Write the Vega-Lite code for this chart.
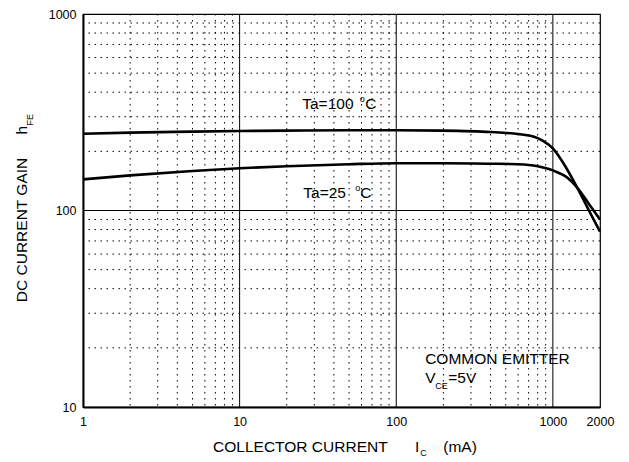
{
  "$schema": "https://vega.github.io/schema/vega-lite/v6.json",
  "width": 517,
  "height": 393,
  "autosize": "none",
  "padding": {"left": 83, "top": 14, "right": 29, "bottom": 55},
  "background": "white",
  "config": {
    "view": {"stroke": "black", "strokeWidth": 1.2},
    "font": "Liberation Sans",
    "axis": {"labelFont": "Liberation Sans", "labelColor": "black", "domainColor": "black", "domainWidth": 2, "grid": false, "ticks": false, "labelFontSize": 12.5, "labelFlush": false, "labelOverlap": false, "title": null}
  },
  "datasets": {
    "xminor": [{"x": 2}, {"x": 3}, {"x": 4}, {"x": 5}, {"x": 6}, {"x": 7}, {"x": 8}, {"x": 9}, {"x": 20}, {"x": 30}, {"x": 40}, {"x": 50}, {"x": 60}, {"x": 70}, {"x": 80}, {"x": 90}, {"x": 200}, {"x": 300}, {"x": 400}, {"x": 500}, {"x": 600}, {"x": 700}, {"x": 800}, {"x": 900}],
    "yminor": [{"y": 20}, {"y": 30}, {"y": 40}, {"y": 50}, {"y": 60}, {"y": 70}, {"y": 80}, {"y": 90}, {"y": 200}, {"y": 300}, {"y": 400}, {"y": 500}, {"y": 600}, {"y": 700}, {"y": 800}, {"y": 900}],
    "xmajor": [{"x": 10}, {"x": 100}, {"x": 1000}],
    "ymajor": [{"y": 100}],
    "curves": [
      {"series": "Ta=100", "x": 1, "y": 246}, {"series": "Ta=100", "x": 2, "y": 249}, {"series": "Ta=100", "x": 5, "y": 252}, {"series": "Ta=100", "x": 10, "y": 254}, {"series": "Ta=100", "x": 20, "y": 255}, {"series": "Ta=100", "x": 50, "y": 256}, {"series": "Ta=100", "x": 100, "y": 256}, {"series": "Ta=100", "x": 200, "y": 255}, {"series": "Ta=100", "x": 400, "y": 251}, {"series": "Ta=100", "x": 600, "y": 245}, {"series": "Ta=100", "x": 750, "y": 238}, {"series": "Ta=100", "x": 860, "y": 227}, {"series": "Ta=100", "x": 1000, "y": 207}, {"series": "Ta=100", "x": 1200, "y": 168}, {"series": "Ta=100", "x": 1450, "y": 128}, {"series": "Ta=100", "x": 1700, "y": 100}, {"series": "Ta=100", "x": 2000, "y": 78},
      {"series": "Ta=25", "x": 1, "y": 144}, {"series": "Ta=25", "x": 2, "y": 151}, {"series": "Ta=25", "x": 5, "y": 159}, {"series": "Ta=25", "x": 10, "y": 164}, {"series": "Ta=25", "x": 20, "y": 168}, {"series": "Ta=25", "x": 50, "y": 172}, {"series": "Ta=25", "x": 100, "y": 174}, {"series": "Ta=25", "x": 200, "y": 174}, {"series": "Ta=25", "x": 400, "y": 173}, {"series": "Ta=25", "x": 600, "y": 172}, {"series": "Ta=25", "x": 800, "y": 168}, {"series": "Ta=25", "x": 1000, "y": 160}, {"series": "Ta=25", "x": 1250, "y": 146}, {"series": "Ta=25", "x": 1450, "y": 129}, {"series": "Ta=25", "x": 1700, "y": 108}, {"series": "Ta=25", "x": 2000, "y": 90}
    ],
    "labels": [
      {"x": 25.1, "y": 330, "text": "Ta=100"},
      {"x": 63.4, "y": 330, "text": "C"},
      {"x": 25.5, "y": 116, "text": "Ta=25"},
      {"x": 58.9, "y": 116, "text": "C"},
      {"x": 153, "y": 16.6, "text": "COMMON EMITTER"},
      {"x": 153, "y": 13.2, "text": "V"},
      {"x": 215, "y": 13.2, "text": "=5V"},
      {"x": 6.77, "y": 5.87, "text": "COLLECTOR CURRENT"},
      {"x": 132, "y": 5.87, "text": "I"},
      {"x": 199.6, "y": 5.87, "text": "(mA)"}
    ],
    "subs": [
      {"x": 177.5, "y": 12.4, "text": "CE"},
      {"x": 142.4, "y": 5.66, "text": "C"},
      {"x": 58.5, "y": 358.6, "text": "o"},
      {"x": 54.7, "y": 126.4, "text": "o"}
    ],
    "ytitle": [{"x": 0.439, "y": 79.6, "text": "DC CURRENT GAIN"}],
    "yh": [{"x": 0.439, "y": 243.7, "text": "h"}],
    "yfe": [{"x": 0.479, "y": 270.8, "text": "FE"}]
  },
  "layer": [
    {
      "data": {"name": "xminor"},
      "mark": {"type": "rule", "color": "black", "strokeWidth": 1, "strokeDash": [1.5, 4.5]},
      "encoding": {
        "x": {"field": "x", "type": "quantitative", "scale": {"type": "log", "domain": [1, 2000], "nice": false},
              "axis": {"values": [1, 10, 100, 1000, 2000], "format": "d", "labelPadding": 8}}
      }
    },
    {
      "data": {"name": "yminor"},
      "mark": {"type": "rule", "color": "black", "strokeWidth": 1, "strokeDash": [1.5, 4.5]},
      "encoding": {
        "y": {"field": "y", "type": "quantitative", "scale": {"type": "log", "domain": [10, 1000], "nice": false},
              "axis": {"values": [10, 100, 1000], "format": "d", "labelPadding": 7}}
      }
    },
    {
      "data": {"name": "xmajor"},
      "mark": {"type": "rule", "color": "black", "strokeWidth": 1},
      "encoding": {
        "x": {"field": "x", "type": "quantitative", "scale": {"type": "log", "domain": [1, 2000], "nice": false},
              "axis": {"values": [1, 10, 100, 1000, 2000], "format": "d", "labelPadding": 8}}
      }
    },
    {
      "data": {"name": "ymajor"},
      "mark": {"type": "rule", "color": "black", "strokeWidth": 1},
      "encoding": {
        "y": {"field": "y", "type": "quantitative", "scale": {"type": "log", "domain": [10, 1000], "nice": false},
              "axis": {"values": [10, 100, 1000], "format": "d", "labelPadding": 7}}
      }
    },
    {
      "data": {"name": "curves"},
      "mark": {"type": "line", "color": "black", "strokeWidth": 2.6, "interpolate": "monotone"},
      "encoding": {
        "x": {"field": "x", "type": "quantitative", "scale": {"type": "log", "domain": [1, 2000], "nice": false},
              "axis": {"values": [1, 10, 100, 1000, 2000], "format": "d", "labelPadding": 8}},
        "y": {"field": "y", "type": "quantitative", "scale": {"type": "log", "domain": [10, 1000], "nice": false},
              "axis": {"values": [10, 100, 1000], "format": "d", "labelPadding": 7}},
        "detail": {"field": "series"}
      }
    },
    {
      "data": {"name": "labels"},
      "mark": {"type": "text", "fontSize": 15.5, "align": "left", "baseline": "alphabetic", "color": "black"},
      "encoding": {
        "x": {"field": "x", "type": "quantitative", "scale": {"type": "log", "domain": [1, 2000], "nice": false},
              "axis": {"values": [1, 10, 100, 1000, 2000], "format": "d", "labelPadding": 8}},
        "y": {"field": "y", "type": "quantitative", "scale": {"type": "log", "domain": [10, 1000], "nice": false},
              "axis": {"values": [10, 100, 1000], "format": "d", "labelPadding": 7}},
        "text": {"field": "text"}
      }
    },
    {
      "data": {"name": "subs"},
      "mark": {"type": "text", "fontSize": 9, "align": "left", "baseline": "alphabetic", "color": "black"},
      "encoding": {
        "x": {"field": "x", "type": "quantitative", "scale": {"type": "log", "domain": [1, 2000], "nice": false},
              "axis": {"values": [1, 10, 100, 1000, 2000], "format": "d", "labelPadding": 8}},
        "y": {"field": "y", "type": "quantitative", "scale": {"type": "log", "domain": [10, 1000], "nice": false},
              "axis": {"values": [10, 100, 1000], "format": "d", "labelPadding": 7}},
        "text": {"field": "text"}
      }
    },
    {
      "data": {"name": "ytitle"},
      "mark": {"type": "text", "fontSize": 15.5, "align": "center", "baseline": "alphabetic", "angle": 270, "color": "black"},
      "encoding": {
        "x": {"field": "x", "type": "quantitative", "scale": {"type": "log", "domain": [1, 2000], "nice": false},
              "axis": {"values": [1, 10, 100, 1000, 2000], "format": "d", "labelPadding": 8}},
        "y": {"field": "y", "type": "quantitative", "scale": {"type": "log", "domain": [10, 1000], "nice": false},
              "axis": {"values": [10, 100, 1000], "format": "d", "labelPadding": 7}},
        "text": {"field": "text"}
      }
    },
    {
      "data": {"name": "yh"},
      "mark": {"type": "text", "fontSize": 15.5, "align": "left", "baseline": "alphabetic", "angle": 270, "color": "black"},
      "encoding": {
        "x": {"field": "x", "type": "quantitative", "scale": {"type": "log", "domain": [1, 2000], "nice": false},
              "axis": {"values": [1, 10, 100, 1000, 2000], "format": "d", "labelPadding": 8}},
        "y": {"field": "y", "type": "quantitative", "scale": {"type": "log", "domain": [10, 1000], "nice": false},
              "axis": {"values": [10, 100, 1000], "format": "d", "labelPadding": 7}},
        "text": {"field": "text"}
      }
    },
    {
      "data": {"name": "yfe"},
      "mark": {"type": "text", "fontSize": 9, "align": "left", "baseline": "alphabetic", "angle": 270, "color": "black"},
      "encoding": {
        "x": {"field": "x", "type": "quantitative", "scale": {"type": "log", "domain": [1, 2000], "nice": false},
              "axis": {"values": [1, 10, 100, 1000, 2000], "format": "d", "labelPadding": 8}},
        "y": {"field": "y", "type": "quantitative", "scale": {"type": "log", "domain": [10, 1000], "nice": false},
              "axis": {"values": [10, 100, 1000], "format": "d", "labelPadding": 7}},
        "text": {"field": "text"}
      }
    }
  ]
}
